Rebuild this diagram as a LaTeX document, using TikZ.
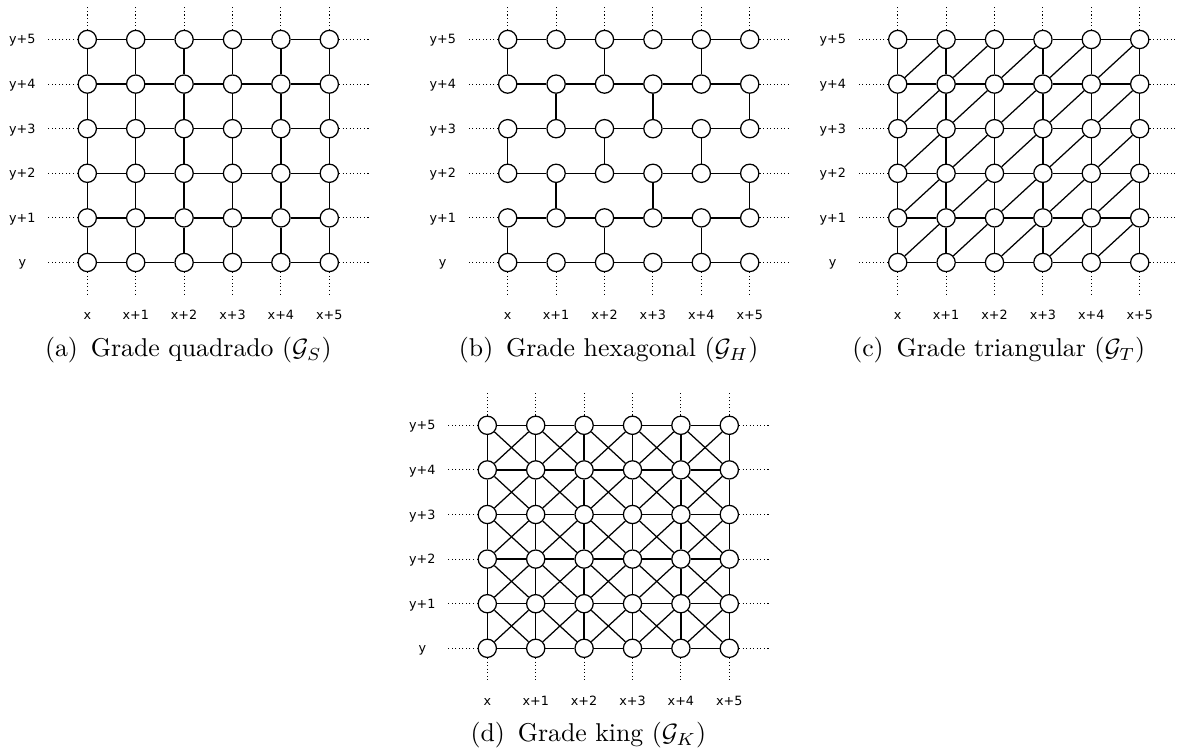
\documentclass[tikz,border=0pt]{standalone}
\usepackage{fontspec}
\usepackage{amsmath}
\newfontfamily\lblfont{DejaVu Sans}
\usetikzlibrary{positioning,calc}

\begin{document}
\begin{tikzpicture}[x=0.4pt, y=0.4pt,
  vtx/.style={circle, draw, fill=white, line width=0.5pt, inner sep=0pt, minimum size=7.3pt},
  edge/.style={line width=0.5pt},
  stub/.style={densely dotted, line width=0.42pt},
  lbl/.style={font=\lblfont\fontsize{5.1}{6}\selectfont, anchor=base, inner sep=0pt},
  captxt/.style={font=\fontsize{10.3}{12}\selectfont, inner sep=0pt},
]
\useasboundingbox (0,0) rectangle (1177,753);

% four panels, same 6x6 layout
\foreach \p/\ox/\oy in {a/87.3/490.5, b/507.7/490.5, c/897.7/490.5, d/487.3/104.7} {
  \begin{scope}[shift={(\ox,\oy)}]
    \foreach \i in {0,...,5}
      \foreach \j in {0,...,5}
        \node[vtx] (\p-\i-\j) at (\i*48.4, \j*44.6) {};
    % labels
    \foreach \j/\t in {0/y, 1/y+1, 2/y+2, 3/y+3, 4/y+4, 5/y+5}
      \node[lbl] (\p-ly\j) at (-65, \j*44.6-4.5) {\t};
    \foreach \i/\t in {0/x, 1/x+1, 2/x+2, 3/x+3, 4/x+4, 5/x+5}
      \node[lbl] (\p-lx\i) at (\i*48.4, -57) {\t};
    % dotted stubs
    \foreach \j in {0,...,5} {
      \draw[stub] (\p-0-\j.west) -- +(-29.5,0);
      \draw[stub] (\p-5-\j.east) -- +(29.5,0);
    }
    \foreach \i in {0,...,5} {
      \draw[stub] (\p-\i-5.north) -- +(0,23.5);
      \draw[stub] (\p-\i-0.south) -- +(0,-24.5);
    }
    % rows
    \foreach \j in {0,...,5}
      \foreach \i [count=\ii from 1] in {0,...,4}
        \draw[edge] (\p-\i-\j) -- (\p-\ii-\j);
  \end{scope}
}

% square
\foreach \i in {0,...,5}
  \foreach \j [count=\jj from 1] in {0,...,4}
    \draw[edge] (a-\i-\j) -- (a-\i-\jj);

% hexagonal (brick wall)
\foreach \j [count=\jj from 1] in {0,...,4}
  \foreach \i in {0,...,5} {
    \pgfmathtruncatemacro{\ok}{mod(\i+\j,2)}
    \ifnum\ok=0 \draw[edge] (b-\i-\j) -- (b-\i-\jj); \fi
  }

% triangular
\foreach \i [count=\ii from 1] in {0,...,5}
  \foreach \j [count=\jj from 1] in {0,...,4} {
    \draw[edge] (c-\i-\j) -- (c-\i-\jj);
    \ifnum\i<5 \draw[edge] (c-\i-\j) -- (c-\ii-\jj); \fi
  }

% king
\foreach \i [count=\ii from 1] in {0,...,5}
  \foreach \j [count=\jj from 1] in {0,...,4} {
    \draw[edge] (d-\i-\j) -- (d-\i-\jj);
    \ifnum\i<5
      \draw[edge] (d-\i-\j) -- (d-\ii-\jj);
      \draw[edge] (d-\ii-\j) -- (d-\i-\jj);
    \fi
  }

% captions
\node[captxt] (capa) at (87.3+101, 490.5-87.5) {(a)\hspace{0.5em}Grade quadrado ($\mathcal{G}_S$)};
\node[captxt] (capb) at (507.7+101, 490.5-87.5) {(b)\hspace{0.5em}Grade hexagonal ($\mathcal{G}_H$)};
\node[captxt] (capc) at (897.7+101, 490.5-87.5) {(c)\hspace{0.5em}Grade triangular ($\mathcal{G}_T$)};
\node[captxt] (capd) at (487.3+101, 104.7-87) {(d)\hspace{0.5em}Grade king ($\mathcal{G}_K$)};

\end{tikzpicture}
\end{document}
